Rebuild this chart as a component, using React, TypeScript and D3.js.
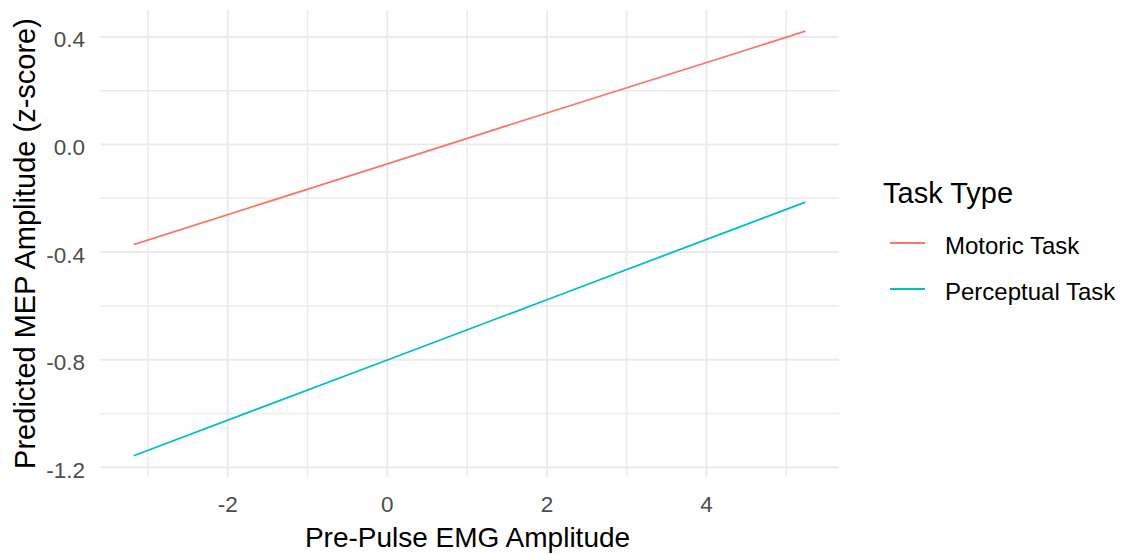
import React from "react";
import * as d3 from "d3";

const xValues = [-3.18, 0, 2, 5.24];
const motoricValues = [-0.372, -0.072, 0.117, 0.421];
const perceptualValues = [-1.157, -0.801, -0.577, -0.214];
const seriesNames = ["Motoric Task", "Perceptual Task"];
const seriesColors = ["#F8766D", "#00BFC4"];
const xMajorTicks = [-2, 0, 2, 4];
const xMinorTicks = [-3, -1, 1, 3, 5];
const yMajorTicks = [-1.2, -0.8, -0.4, 0.0, 0.4];
const yMinorTicks = [-1.0, -0.6, -0.2, 0.2];

const W = 1131, H = 554;
const panel = { left: 100, right: 839, top: 10, bottom: 477 };

export default function App() {
  const allY = [...motoricValues, ...perceptualValues];
  const xMin = d3.min(xValues)!, xMax = d3.max(xValues)!;
  const yMin = d3.min(allY)!, yMax = d3.max(allY)!;
  const xp = (xMax - xMin) * 0.05, yp = (yMax - yMin) * 0.05;
  const x = d3.scaleLinear().domain([xMin - xp, xMax + xp]).range([panel.left, panel.right]);
  const y = d3.scaleLinear().domain([yMin - yp, yMax + yp]).range([panel.bottom, panel.top]);
  const line = d3.line<[number, number]>().x(d => x(d[0])).y(d => y(d[1]));
  const series = [motoricValues, perceptualValues].map(vals => xValues.map((xv, i) => [xv, vals[i]] as [number, number]));
  const font = "'Liberation Sans', Arial, sans-serif";
  return (
    <svg width={W} height={H} style={{ position: "absolute", left: 0, top: 0, background: "#fff" }} fontFamily={font}>
      {xMinorTicks.map(t => <line key={"xm" + t} x1={x(t)} x2={x(t)} y1={panel.top} y2={panel.bottom} stroke="#EBEBEB" strokeWidth={1.5} />)}
      {yMinorTicks.map(t => <line key={"ym" + t} y1={y(t)} y2={y(t)} x1={panel.left} x2={panel.right} stroke="#EBEBEB" strokeWidth={1.5} />)}
      {xMajorTicks.map(t => <line key={"xM" + t} x1={x(t)} x2={x(t)} y1={panel.top} y2={panel.bottom} stroke="#EBEBEB" strokeWidth={2} />)}
      {yMajorTicks.map(t => <line key={"yM" + t} y1={y(t)} y2={y(t)} x1={panel.left} x2={panel.right} stroke="#EBEBEB" strokeWidth={2} />)}
      {series.map((s, i) => <path key={i} d={line(s)!} fill="none" stroke={seriesColors[i]} strokeWidth={1.8} />)}
      {xMajorTicks.map(t => <text key={"xl" + t} x={x(t)} y={512} textAnchor="middle" fontSize={22.5} fill="#4D4D4D">{d3.format(".0f")(t).replace("−", "-")}</text>)}
      {yMajorTicks.map(t => <text key={"yl" + t} x={85} y={y(t) + 10.5} textAnchor="end" fontSize={22.5} fill="#4D4D4D">{d3.format(".1f")(t).replace("−", "-")}</text>)}
      <text x={(panel.left + panel.right) / 2 - 2} y={547} textAnchor="middle" fontSize={28} fill="#000">Pre-Pulse EMG Amplitude</text>
      <text transform={`translate(35,${(panel.top + panel.bottom) / 2}) rotate(-90)`} textAnchor="middle" fontSize={29} fill="#000">Predicted MEP Amplitude (z-score)</text>
      <text x={883} y={203} fontSize={29} fill="#000">Task Type</text>
      {seriesNames.map((n, i) => {
        const cy = 243 + i * 46;
        return (
          <g key={n}>
            <line x1={890} x2={925} y1={cy} y2={cy} stroke={seriesColors[i]} strokeWidth={1.8} />
            <text x={945} y={cy + 10.5} fontSize={24} fill="#000">{n}</text>
          </g>
        );
      })}
    </svg>
  );
}
